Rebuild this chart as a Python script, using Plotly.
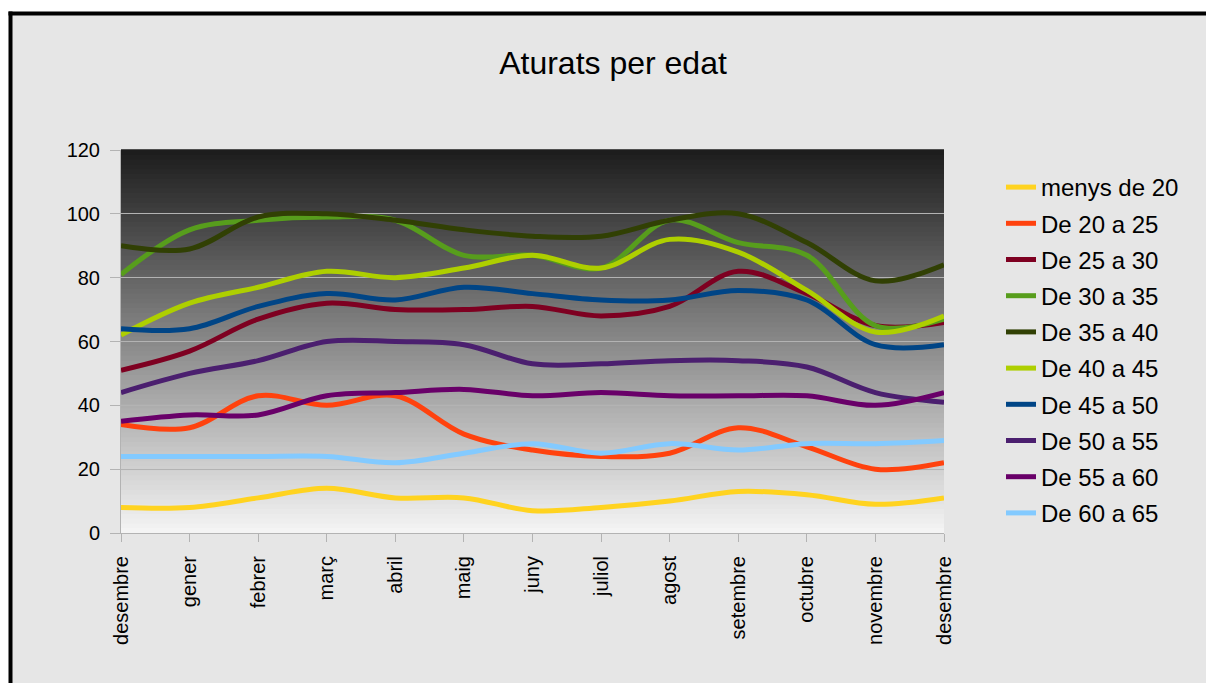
import plotly.graph_objects as go

months = ["desembre", "gener", "febrer", "març", "abril", "maig", "juny",
          "juliol", "agost", "setembre", "octubre", "novembre", "desembre"]

menys_de_20 = [8, 8, 11, 14, 11, 11, 7, 8, 10, 13, 12, 9, 11]
de_20_a_25 = [34, 33, 43, 40, 43, 31, 26, 24, 25, 33, 27, 20, 22]
de_25_a_30 = [51, 57, 67, 72, 70, 70, 71, 68, 71, 82, 75, 65, 66]
de_30_a_35 = [81, 95, 98, 99, 98, 87, 87, 83, 98, 91, 87, 65, 67]
de_35_a_40 = [90, 89, 99, 100, 98, 95, 93, 93, 98, 100, 91, 79, 84]
de_40_a_45 = [62, 72, 77, 82, 80, 83, 87, 83, 92, 88, 76, 63, 68]
de_45_a_50 = [64, 64, 71, 75, 73, 77, 75, 73, 73, 76, 73, 59, 59]
de_50_a_55 = [44, 50, 54, 60, 60, 59, 53, 53, 54, 54, 52, 44, 41]
de_55_a_60 = [35, 37, 37, 43, 44, 45, 43, 44, 43, 43, 43, 40, 44]
de_60_a_65 = [24, 24, 24, 24, 22, 25, 28, 25, 28, 26, 28, 28, 29]

series_names = ["menys de 20", "De 20 a 25", "De 25 a 30", "De 30 a 35", "De 35 a 40",
                "De 40 a 45", "De 45 a 50", "De 50 a 55", "De 55 a 60", "De 60 a 65"]
series_values = [menys_de_20, de_20_a_25, de_25_a_30, de_30_a_35, de_35_a_40,
                 de_40_a_45, de_45_a_50, de_50_a_55, de_55_a_60, de_60_a_65]
colors = ["#ffd320", "#ff420e", "#7e0021", "#579d1c", "#314004",
          "#aecf00", "#004586", "#4b1f6f", "#690069", "#83caff"]

x_idx = list(range(len(months)))

fig = go.Figure()
for i, (name, vals, col) in enumerate(zip(series_names, series_values, colors)):
    fig.add_trace(go.Scatter(
        x=x_idx, y=vals, name=name, mode="lines",
        line=dict(color=col, width=5, shape="spline", smoothing=1.0),
        legendgroup=f"g{i}",
    ))

W, H = 1206, 683
L, R, T, B = 121, 1206 - 944, 150, 683 - 533
pw, ph = W - L - R, H - T - B

def px_x(px):
    return (px - L) / pw

def px_y(py):
    return (H - B - py) / ph

shapes = []
# outer frame: grey fill plus black left and top edges
shapes.append(dict(type="rect", xref="paper", yref="paper",
                   x0=px_x(10.5), x1=px_x(1240), y0=px_y(13.5), y1=px_y(720),
                   fillcolor="#e6e6e6", line=dict(width=0), layer="below"))
shapes.append(dict(type="line", xref="paper", yref="paper",
                   x0=px_x(10.5), x1=px_x(10.5), y0=px_y(11.5), y1=px_y(720),
                   line=dict(color="black", width=4), layer="below"))
shapes.append(dict(type="line", xref="paper", yref="paper",
                   x0=px_x(8.5), x1=px_x(1240), y0=px_y(13.5), y1=px_y(13.5),
                   line=dict(color="black", width=4), layer="below"))
# gradient background of the plot area
N = 80
top_c, bot_c = 28, 245
for k in range(N):
    f = (k + 0.5) / N
    c = int(round(bot_c + (top_c - bot_c) * f))
    shapes.append(dict(type="rect", xref="x domain", yref="y domain",
                       x0=0, x1=1, y0=k / N, y1=(k + 1) / N + 0.002,
                       fillcolor=f"rgb({c},{c},{c})", line=dict(width=0), layer="below"))

fig.update_layout(
    width=W, height=H,
    margin=dict(l=L, r=R, t=T, b=B),
    paper_bgcolor="white",
    plot_bgcolor="rgba(0,0,0,0)",
    font=dict(family="Liberation Sans, Arial, sans-serif", color="black"),
    title=dict(text="Aturats per edat", x=613 / W, xanchor="center",
               y=1 - 63 / H, yanchor="middle", yref="container",
               font=dict(size=32, color="black")),
    shapes=shapes,
    showlegend=True,
    legend=dict(x=px_x(1001), xanchor="left", y=px_y(165), yanchor="top",
                font=dict(size=24, color="black"), bgcolor="rgba(0,0,0,0)",
                traceorder="grouped", tracegroupgap=2, itemwidth=30),
    xaxis=dict(range=[0, 12], tickmode="array", tickvals=x_idx, ticktext=months,
               tickangle=-90, showgrid=False, zeroline=False,
               showline=True, linecolor="#b3b3b3", linewidth=1,
               ticks="outside", ticklen=8, tickcolor="#b3b3b3",
               tickfont=dict(size=20, color="black"), ticklabelstandoff=6),
    yaxis=dict(range=[0, 120], tickmode="array", tickvals=[0, 20, 40, 60, 80, 100, 120],
               showgrid=True, gridcolor="#b3b3b3", gridwidth=1, zeroline=False,
               showline=True, linecolor="#b3b3b3", linewidth=1,
               ticks="outside", ticklen=10, tickcolor="#b3b3b3",
               tickfont=dict(size=20, color="black"), ticklabelstandoff=6),
)

fig.write_html(
    "out.html",
    config={"displayModeBar": False},
    post_script="document.body.style.margin='0';document.documentElement.style.overflow='hidden';",
)
